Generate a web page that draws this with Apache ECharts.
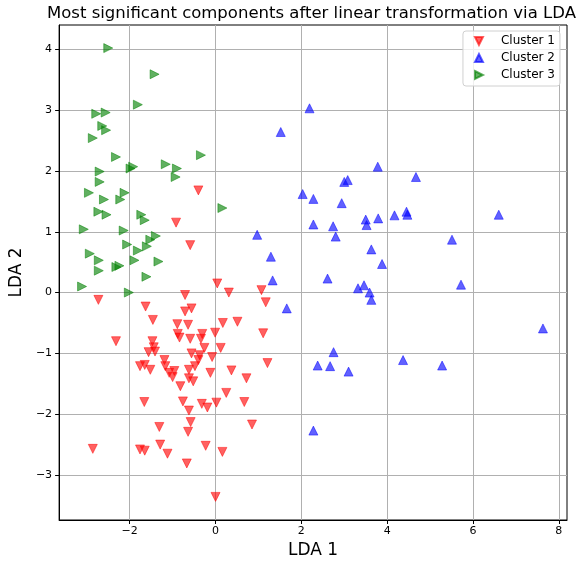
<!DOCTYPE html>
<html>
<head>
<meta charset="utf-8">
<script src="https://cdn.jsdelivr.net/npm/echarts@6/dist/echarts.min.js"></script>
<style>
  html, body { margin: 0; padding: 0; background: #fff; }
  #chart { width: 587px; height: 564px; }
</style>
</head>
<body>
<div id="chart"></div>
<script>
// LDA projections, [LDA 1, LDA 2] per sample
const cluster1 = [
  [-0.40, 1.68], [-0.92, 1.15], [-0.59, 0.78], [0.04, 0.15], [-0.71, -0.04],
  [0.31, 0.00], [1.07, 0.04], [1.17, -0.16], [-2.73, -0.12], [-1.63, -0.23],
  [-0.71, -0.31], [-0.56, -0.26], [-1.46, -0.45], [0.17, -0.50], [0.51, -0.48],
  [-0.89, -0.52], [-0.64, -0.53], [-0.88, -0.68], [-0.84, -0.74], [-0.59, -0.76],
  [-0.31, -0.68], [-0.34, -0.76], [-0.01, -0.66], [1.11, -0.67], [-2.32, -0.80],
  [-1.47, -0.80], [-1.44, -0.90], [-1.56, -0.98], [-1.41, -0.97], [0.12, -0.91],
  [-0.26, -0.91], [-0.56, -1.00], [-0.37, -1.03], [-0.40, -1.11], [-0.08, -1.06],
  [-1.19, -1.11], [-1.76, -1.21], [-1.65, -1.19], [-1.52, -1.27], [-1.17, -1.21],
  [-0.48, -1.21], [-0.62, -1.27], [-1.08, -1.32], [-0.96, -1.29], [-1.00, -1.39],
  [-0.12, -1.32], [0.37, -1.28], [1.21, -1.16], [-0.62, -1.41], [-0.52, -1.46],
  [0.72, -1.41], [-0.82, -1.54], [0.25, -1.65], [-1.66, -1.80], [-0.76, -1.79],
  [-0.32, -1.83], [-0.19, -1.89], [0.02, -1.81], [0.67, -1.80], [-0.62, -1.94],
  [-0.58, -2.13], [-1.31, -2.21], [0.85, -2.17], [-0.64, -2.29], [-1.29, -2.50],
  [-1.76, -2.58], [-1.65, -2.60], [-1.12, -2.65], [-0.23, -2.52], [0.16, -2.62],
  [-0.67, -2.81], [-2.86, -2.57], [0.00, -3.36]
];
const cluster2 = [
  [2.19, 3.03], [1.52, 2.64], [3.78, 2.07], [4.67, 1.90], [3.08, 1.85],
  [3.00, 1.82], [2.03, 1.62], [2.28, 1.54], [2.94, 1.47], [2.28, 1.12],
  [2.74, 1.09], [3.50, 1.20], [3.52, 1.11], [3.79, 1.22], [4.17, 1.27],
  [4.45, 1.33], [4.47, 1.28], [0.97, 0.95], [2.80, 0.92], [3.63, 0.71],
  [1.29, 0.59], [3.88, 0.47], [1.33, 0.20], [2.61, 0.23], [3.32, 0.07],
  [3.46, 0.12], [3.59, 0.00], [3.63, -0.12], [1.66, -0.26], [6.60, 1.28],
  [5.51, 0.87], [5.72, 0.13], [7.63, -0.59], [5.28, -1.20], [2.75, -0.98],
  [2.38, -1.20], [2.67, -1.21], [3.10, -1.30], [4.37, -1.11], [2.28, -2.27]
];
const cluster3 = [
  [-2.50, 4.02], [-1.42, 3.59], [-1.81, 3.09], [-2.78, 2.94], [-2.56, 2.96],
  [-2.64, 2.74], [-2.55, 2.67], [-2.86, 2.54], [-2.32, 2.23], [-0.34, 2.26],
  [-1.16, 2.11], [-0.90, 2.04], [-0.93, 1.90], [-2.70, 1.99], [-2.70, 1.82],
  [-1.98, 2.04], [-1.92, 2.07], [-2.95, 1.64], [-2.60, 1.53], [-2.12, 1.64],
  [-2.22, 1.53], [-2.73, 1.33], [-2.54, 1.28], [-1.73, 1.28], [-1.65, 1.19],
  [0.16, 1.39], [-3.07, 1.04], [-2.14, 1.02], [-1.39, 0.93], [-1.52, 0.87],
  [-1.60, 0.76], [-1.81, 0.69], [-2.06, 0.79], [-2.93, 0.64], [-2.72, 0.53],
  [-1.89, 0.53], [-1.33, 0.51], [-2.24, 0.44], [-2.31, 0.42], [-2.72, 0.36],
  [-1.61, 0.26], [-3.11, 0.10], [-2.02, 0.00]
];

const seriesNames = ['Cluster 1', 'Cluster 2', 'Cluster 3'];
const xTicks = [-2, 0, 2, 4, 6, 8];
const yTicks = [-3, -2, -1, 0, 1, 2, 3, 4];

const FONT = 'DejaVu Sans';
const fmt = v => String(v).replace('-', '\u2212');

const chart = echarts.init(document.getElementById('chart'), null, { renderer: 'canvas' });

const axisCommon = {
  type: 'value',
  nameLocation: 'middle',
  nameTextStyle: { fontFamily: FONT, fontSize: 17, color: '#000' },
  axisLine: { show: true, onZero: false, lineStyle: { color: '#000', width: 1 } },
  axisTick: { show: true, inside: false, length: 4, lineStyle: { color: '#000', width: 1 } },
  axisLabel: { fontFamily: FONT, fontSize: 11, color: '#000', formatter: fmt },
  splitLine: { show: true, lineStyle: { color: '#b0b0b0', width: 1 } }
};

function scatter(name, data, path, color) {
  return {
    name: name,
    type: 'scatter',
    data: data,
    symbol: path,
    symbolSize: 9,
    itemStyle: { color: color, borderColor: color, borderWidth: 0.8, opacity: 0.62 },
    emphasis: { disabled: true },
    z: 3
  };
}

chart.setOption({
  animation: false,
  backgroundColor: '#fff',
  title: {
    text: 'Most significant components after linear transformation via LDA',
    left: 311.5,
    top: 5,
    textAlign: 'center',
    padding: 0,
    textStyle: { fontFamily: FONT, fontSize: 16.5, fontWeight: 'normal', color: '#000' }
  },
  legend: {
    orient: 'vertical',
    right: 27,
    top: 31,
    padding: [4, 5, 5, 11],
    itemWidth: 8,
    itemHeight: 8,
    itemGap: 5,
    backgroundColor: 'rgba(255,255,255,0.8)',
    borderColor: '#d0d0d0',
    borderWidth: 1,
    borderRadius: 3,
    textStyle: { fontFamily: FONT, fontSize: 12, color: '#000', lineHeight: 12, padding: [0, 0, 0, 13] },
    data: seriesNames
  },
  grid: {
    left: 56, right: 20, top: 25, bottom: 42,
    show: true, borderColor: '#000', borderWidth: 1, backgroundColor: 'transparent'
  },
  xAxis: Object.assign({}, axisCommon, {
    name: 'LDA 1',
    nameGap: 22,
    min: -3.645,
    max: 8.19,
    axisTick: Object.assign({}, axisCommon.axisTick, { customValues: xTicks }),
    axisLabel: Object.assign({}, axisCommon.axisLabel, { customValues: xTicks, margin: 6 })
  }),
  yAxis: Object.assign({}, axisCommon, {
    name: 'LDA 2',
    nameGap: 28,
    min: -3.74,
    max: 4.40,
    axisTick: Object.assign({}, axisCommon.axisTick, { customValues: yTicks }),
    axisLabel: Object.assign({}, axisCommon.axisLabel, { customValues: yTicks, margin: 7 })
  }),
  series: [
    scatter(seriesNames[0], cluster1, 'path://M0,0L2,0L1,2Z', '#ff0000'),
    scatter(seriesNames[1], cluster2, 'path://M1,0L2,2L0,2Z', '#0000ff'),
    scatter(seriesNames[2], cluster3, 'path://M0,0L2,1L0,2Z', '#008000')
  ]
});
</script>
</body>
</html>
